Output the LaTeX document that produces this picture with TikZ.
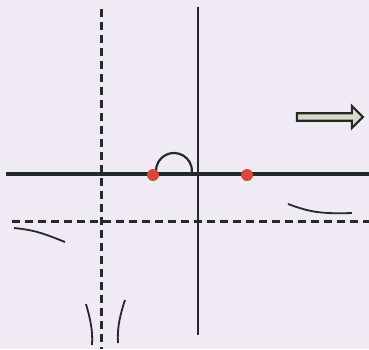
\documentclass[tikz,border=0pt]{standalone}
\usepackage{tikz}
\usetikzlibrary{shapes.arrows}
\definecolor{bgpaper}{HTML}{EFEAF4}
\definecolor{inkdark}{HTML}{222B2A}
\definecolor{dotred}{HTML}{D9473A}
\definecolor{arrowfill}{HTML}{DDD8C6}

\begin{document}
\begin{tikzpicture}[
  x=1pt, y=-1pt,
  axis/.style={draw=inkdark, line width=3.2pt},
  asym/.style={draw=inkdark, line width=3pt, dash pattern=on 8pt off 5pt},
  branch/.style={draw=inkdark, line width=1.8pt},
  zero/.style={circle, fill=dotred, inner sep=0pt, minimum size=12pt},
  hint/.style={single arrow, draw=inkdark, fill=arrowfill, line width=2.2pt,
               minimum height=66pt, minimum width=22pt,
               single arrow head extend=5pt, inner sep=1.5pt},
]
%% background
\fill[bgpaper] (0,0) rectangle (369,349);
\useasboundingbox (0,0) rectangle (369,349);

%% axes
\draw[axis] (6,174) -- (369,174);
\draw[axis, line width=2.2pt] (198,7) -- (198,335);

%% asymptotes
\draw[asym] (101,9) -- (101,349);
\draw[asym] (12,221) -- (369,221);

%% hole arc
\draw[branch, line width=2.2pt] (156,171) arc[start angle=180, end angle=364, radius=18];

%% zeros
\node[zero] (z1) at (153,175) {};
\node[zero] (z2) at (247,175) {};

%% branches
\draw[branch] (288,204) .. controls (310,212) and (320,214) .. (352,213);
\draw[branch] (14,228) .. controls (35,230) and (45,234) .. (65,242);
\draw[branch] (86,304) .. controls (90,318) and (93,330) .. (92,345);
\draw[branch] (125,300) .. controls (120,315) and (117,328) .. (118,343);

%% direction hint
\node[hint] (go) at (328,117) {};

\end{tikzpicture}
\end{document}
